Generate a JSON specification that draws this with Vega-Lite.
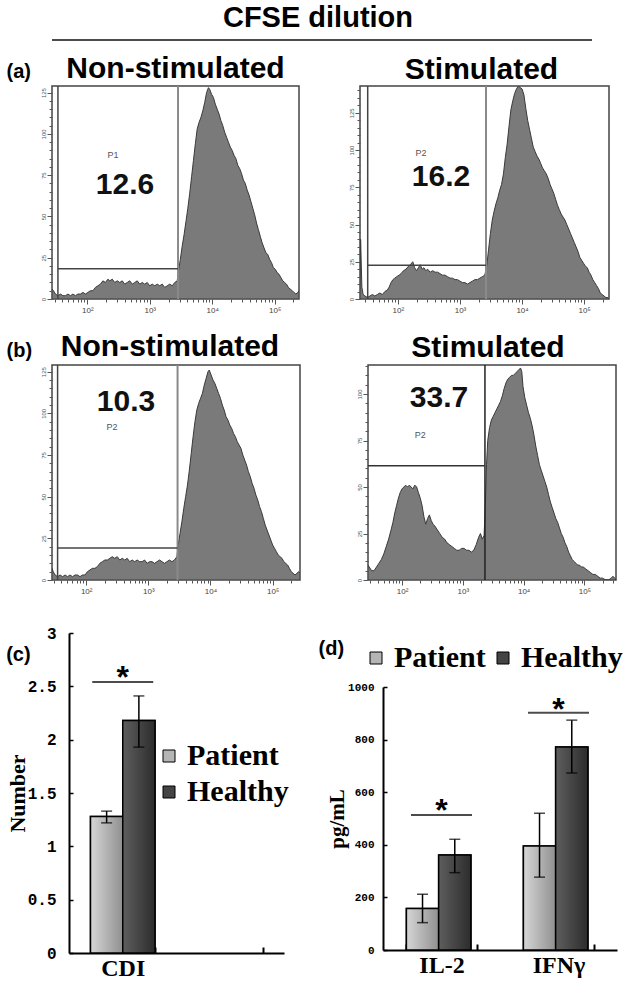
{
  "$schema": "https://vega.github.io/schema/vega-lite/v6.json",
  "background": "white",
  "padding": {"left": 5, "top": 4, "right": 0, "bottom": 0},
  "config": {
    "font": "Liberation Sans",
    "view": {"stroke": "#444", "strokeWidth": 1.5},
    "title": {"font": "Liberation Sans", "fontSize": 30, "fontWeight": "bold", "color": "#000", "frame": "group", "offset": 0},
    "axis": {"grid": false},
    "legend": {"labelFont": "Liberation Serif", "labelFontWeight": "bold", "labelFontSize": 30, "labelColor": "#000", "symbolType": "square", "symbolSize": 144, "symbolStrokeColor": "#000", "symbolStrokeWidth": 1, "labelOffset": 3, "rowPadding": 6, "columnPadding": 2, "labelLimit": 300}
  },
  "datasets": {
    "a1": [{"l":1.435,"c":6},{"l":1.46,"c":5},{"l":1.49,"c":3},{"l":1.53,"c":2},{"l":1.57,"c":3},{"l":1.61,"c":2},{"l":1.65,"c":2},{"l":1.69,"c":3},{"l":1.73,"c":2},{"l":1.77,"c":3},{"l":1.81,"c":2},{"l":1.85,"c":3},{"l":1.89,"c":3},{"l":1.93,"c":4},{"l":1.97,"c":3},{"l":2.01,"c":4},{"l":2.05,"c":5},{"l":2.09,"c":5},{"l":2.13,"c":7},{"l":2.17,"c":8},{"l":2.21,"c":9},{"l":2.25,"c":11},{"l":2.29,"c":10},{"l":2.33,"c":12},{"l":2.36,"c":11},{"l":2.4,"c":12},{"l":2.44,"c":10},{"l":2.48,"c":11},{"l":2.52,"c":10},{"l":2.56,"c":11},{"l":2.6,"c":9},{"l":2.64,"c":10},{"l":2.68,"c":11},{"l":2.72,"c":9},{"l":2.76,"c":10},{"l":2.8,"c":11},{"l":2.84,"c":9},{"l":2.88,"c":10},{"l":2.92,"c":9},{"l":2.96,"c":10},{"l":3.0,"c":8},{"l":3.04,"c":9},{"l":3.08,"c":8},{"l":3.12,"c":9},{"l":3.16,"c":8},{"l":3.2,"c":9},{"l":3.24,"c":7},{"l":3.28,"c":8},{"l":3.32,"c":9},{"l":3.36,"c":8},{"l":3.4,"c":10},{"l":3.44,"c":11},{"l":3.46,"c":17},{"l":3.49,"c":24},{"l":3.52,"c":32},{"l":3.55,"c":39},{"l":3.58,"c":47},{"l":3.61,"c":55},{"l":3.64,"c":64},{"l":3.67,"c":74},{"l":3.7,"c":84},{"l":3.73,"c":94},{"l":3.76,"c":103},{"l":3.79,"c":107},{"l":3.82,"c":110},{"l":3.85,"c":114},{"l":3.88,"c":119},{"l":3.91,"c":125},{"l":3.94,"c":128},{"l":3.96,"c":127},{"l":3.99,"c":124},{"l":4.02,"c":122},{"l":4.05,"c":118},{"l":4.08,"c":115},{"l":4.11,"c":112},{"l":4.14,"c":108},{"l":4.17,"c":105},{"l":4.2,"c":101},{"l":4.23,"c":98},{"l":4.26,"c":95},{"l":4.29,"c":92},{"l":4.32,"c":90},{"l":4.35,"c":87},{"l":4.38,"c":85},{"l":4.41,"c":81},{"l":4.44,"c":79},{"l":4.47,"c":76},{"l":4.5,"c":72},{"l":4.53,"c":70},{"l":4.56,"c":66},{"l":4.59,"c":63},{"l":4.62,"c":59},{"l":4.65,"c":55},{"l":4.68,"c":51},{"l":4.71,"c":46},{"l":4.74,"c":42},{"l":4.77,"c":38},{"l":4.8,"c":34},{"l":4.83,"c":31},{"l":4.86,"c":28},{"l":4.89,"c":27},{"l":4.92,"c":24},{"l":4.95,"c":22},{"l":4.98,"c":19},{"l":5.01,"c":18},{"l":5.04,"c":16},{"l":5.07,"c":15},{"l":5.1,"c":13},{"l":5.13,"c":11},{"l":5.16,"c":10},{"l":5.19,"c":9},{"l":5.22,"c":7},{"l":5.25,"c":6},{"l":5.28,"c":5},{"l":5.31,"c":4},{"l":5.34,"c":3},{"l":5.37,"c":4},{"l":5.39,"c":5}],
    "a2": [{"l":1.39,"c":2},{"l":1.4,"c":40},{"l":1.42,"c":8},{"l":1.44,"c":3},{"l":1.47,"c":2},{"l":1.51,"c":1},{"l":1.55,"c":2},{"l":1.59,"c":3},{"l":1.63,"c":2},{"l":1.67,"c":3},{"l":1.71,"c":4},{"l":1.75,"c":3},{"l":1.79,"c":5},{"l":1.83,"c":6},{"l":1.86,"c":8},{"l":1.89,"c":11},{"l":1.92,"c":13},{"l":1.95,"c":14},{"l":1.98,"c":15},{"l":2.02,"c":16},{"l":2.05,"c":17},{"l":2.09,"c":19},{"l":2.13,"c":20},{"l":2.17,"c":22},{"l":2.2,"c":23},{"l":2.24,"c":25},{"l":2.27,"c":21},{"l":2.3,"c":19},{"l":2.33,"c":21},{"l":2.36,"c":23},{"l":2.39,"c":20},{"l":2.42,"c":21},{"l":2.45,"c":19},{"l":2.48,"c":20},{"l":2.52,"c":18},{"l":2.56,"c":19},{"l":2.6,"c":18},{"l":2.64,"c":18},{"l":2.68,"c":17},{"l":2.72,"c":16},{"l":2.76,"c":16},{"l":2.8,"c":15},{"l":2.84,"c":14},{"l":2.88,"c":14},{"l":2.92,"c":13},{"l":2.96,"c":13},{"l":3.0,"c":12},{"l":3.04,"c":11},{"l":3.08,"c":11},{"l":3.12,"c":10},{"l":3.16,"c":11},{"l":3.2,"c":12},{"l":3.24,"c":13},{"l":3.28,"c":13},{"l":3.32,"c":14},{"l":3.36,"c":15},{"l":3.4,"c":16},{"l":3.43,"c":22},{"l":3.46,"c":33},{"l":3.49,"c":44},{"l":3.52,"c":53},{"l":3.55,"c":59},{"l":3.58,"c":64},{"l":3.61,"c":68},{"l":3.64,"c":73},{"l":3.67,"c":77},{"l":3.7,"c":84},{"l":3.73,"c":95},{"l":3.76,"c":104},{"l":3.79,"c":116},{"l":3.82,"c":127},{"l":3.85,"c":133},{"l":3.88,"c":138},{"l":3.91,"c":141},{"l":3.94,"c":143},{"l":3.97,"c":142},{"l":4.0,"c":141},{"l":4.03,"c":137},{"l":4.06,"c":128},{"l":4.09,"c":120},{"l":4.12,"c":114},{"l":4.15,"c":108},{"l":4.18,"c":102},{"l":4.21,"c":99},{"l":4.24,"c":96},{"l":4.27,"c":94},{"l":4.3,"c":91},{"l":4.33,"c":88},{"l":4.36,"c":86},{"l":4.39,"c":84},{"l":4.42,"c":81},{"l":4.45,"c":77},{"l":4.48,"c":74},{"l":4.51,"c":71},{"l":4.54,"c":67},{"l":4.57,"c":63},{"l":4.6,"c":60},{"l":4.63,"c":57},{"l":4.66,"c":55},{"l":4.69,"c":53},{"l":4.72,"c":50},{"l":4.75,"c":47},{"l":4.78,"c":44},{"l":4.81,"c":41},{"l":4.84,"c":38},{"l":4.87,"c":35},{"l":4.9,"c":32},{"l":4.93,"c":28},{"l":4.96,"c":26},{"l":4.99,"c":24},{"l":5.02,"c":22},{"l":5.05,"c":21},{"l":5.08,"c":18},{"l":5.11,"c":16},{"l":5.14,"c":13},{"l":5.17,"c":11},{"l":5.2,"c":9},{"l":5.23,"c":7},{"l":5.26,"c":4},{"l":5.29,"c":3},{"l":5.32,"c":2},{"l":5.35,"c":1},{"l":5.38,"c":1},{"l":5.4,"c":0}],
    "b1": [{"l":1.45,"c":7},{"l":1.47,"c":5},{"l":1.5,"c":3},{"l":1.54,"c":2},{"l":1.58,"c":3},{"l":1.62,"c":2},{"l":1.66,"c":3},{"l":1.7,"c":2},{"l":1.74,"c":3},{"l":1.78,"c":2},{"l":1.82,"c":3},{"l":1.86,"c":3},{"l":1.9,"c":2},{"l":1.94,"c":3},{"l":1.98,"c":3},{"l":2.02,"c":5},{"l":2.06,"c":6},{"l":2.1,"c":7},{"l":2.14,"c":7},{"l":2.18,"c":8},{"l":2.22,"c":10},{"l":2.26,"c":11},{"l":2.3,"c":12},{"l":2.34,"c":12},{"l":2.38,"c":13},{"l":2.42,"c":14},{"l":2.46,"c":13},{"l":2.5,"c":14},{"l":2.54,"c":12},{"l":2.58,"c":13},{"l":2.62,"c":12},{"l":2.66,"c":13},{"l":2.7,"c":11},{"l":2.74,"c":12},{"l":2.78,"c":11},{"l":2.82,"c":12},{"l":2.86,"c":11},{"l":2.9,"c":11},{"l":2.94,"c":12},{"l":2.98,"c":10},{"l":3.02,"c":11},{"l":3.06,"c":11},{"l":3.1,"c":10},{"l":3.14,"c":11},{"l":3.18,"c":12},{"l":3.22,"c":11},{"l":3.26,"c":10},{"l":3.3,"c":11},{"l":3.34,"c":12},{"l":3.38,"c":11},{"l":3.42,"c":12},{"l":3.46,"c":14},{"l":3.48,"c":21},{"l":3.51,"c":28},{"l":3.54,"c":35},{"l":3.57,"c":43},{"l":3.6,"c":50},{"l":3.63,"c":57},{"l":3.66,"c":66},{"l":3.69,"c":76},{"l":3.72,"c":86},{"l":3.75,"c":95},{"l":3.78,"c":102},{"l":3.81,"c":106},{"l":3.84,"c":109},{"l":3.87,"c":112},{"l":3.9,"c":117},{"l":3.93,"c":121},{"l":3.96,"c":125},{"l":3.98,"c":126},{"l":4.01,"c":123},{"l":4.04,"c":120},{"l":4.07,"c":118},{"l":4.1,"c":115},{"l":4.13,"c":112},{"l":4.16,"c":109},{"l":4.19,"c":105},{"l":4.22,"c":102},{"l":4.25,"c":98},{"l":4.28,"c":96},{"l":4.31,"c":93},{"l":4.34,"c":91},{"l":4.37,"c":88},{"l":4.4,"c":86},{"l":4.43,"c":83},{"l":4.46,"c":81},{"l":4.49,"c":79},{"l":4.52,"c":75},{"l":4.55,"c":72},{"l":4.58,"c":69},{"l":4.61,"c":65},{"l":4.64,"c":62},{"l":4.67,"c":58},{"l":4.7,"c":55},{"l":4.73,"c":51},{"l":4.76,"c":48},{"l":4.79,"c":44},{"l":4.82,"c":41},{"l":4.85,"c":37},{"l":4.88,"c":33},{"l":4.91,"c":30},{"l":4.94,"c":27},{"l":4.97,"c":24},{"l":5.0,"c":21},{"l":5.03,"c":19},{"l":5.06,"c":17},{"l":5.09,"c":15},{"l":5.12,"c":14},{"l":5.15,"c":13},{"l":5.18,"c":11},{"l":5.21,"c":10},{"l":5.24,"c":9},{"l":5.27,"c":7},{"l":5.3,"c":5},{"l":5.33,"c":4},{"l":5.36,"c":3},{"l":5.39,"c":4},{"l":5.42,"c":5},{"l":5.44,"c":4}],
    "b2": [{"l":1.44,"c":8},{"l":1.46,"c":7},{"l":1.5,"c":5},{"l":1.54,"c":5},{"l":1.58,"c":7},{"l":1.62,"c":9},{"l":1.66,"c":11},{"l":1.7,"c":14},{"l":1.74,"c":18},{"l":1.78,"c":22},{"l":1.82,"c":27},{"l":1.85,"c":31},{"l":1.88,"c":36},{"l":1.91,"c":40},{"l":1.94,"c":44},{"l":1.97,"c":47},{"l":2.0,"c":49},{"l":2.03,"c":50},{"l":2.06,"c":51},{"l":2.09,"c":50},{"l":2.12,"c":51},{"l":2.15,"c":50},{"l":2.18,"c":49},{"l":2.21,"c":51},{"l":2.24,"c":50},{"l":2.27,"c":47},{"l":2.3,"c":44},{"l":2.33,"c":40},{"l":2.36,"c":34},{"l":2.39,"c":30},{"l":2.42,"c":33},{"l":2.45,"c":35},{"l":2.48,"c":32},{"l":2.51,"c":30},{"l":2.54,"c":29},{"l":2.58,"c":27},{"l":2.62,"c":25},{"l":2.66,"c":23},{"l":2.7,"c":22},{"l":2.74,"c":20},{"l":2.78,"c":19},{"l":2.82,"c":18},{"l":2.86,"c":17},{"l":2.9,"c":16},{"l":2.94,"c":16},{"l":2.98,"c":17},{"l":3.02,"c":17},{"l":3.06,"c":16},{"l":3.1,"c":16},{"l":3.14,"c":15},{"l":3.18,"c":16},{"l":3.22,"c":19},{"l":3.26,"c":23},{"l":3.29,"c":25},{"l":3.32,"c":22},{"l":3.35,"c":24},{"l":3.37,"c":40},{"l":3.39,"c":62},{"l":3.41,"c":75},{"l":3.44,"c":82},{"l":3.47,"c":86},{"l":3.5,"c":88},{"l":3.53,"c":90},{"l":3.56,"c":92},{"l":3.59,"c":94},{"l":3.62,"c":96},{"l":3.65,"c":99},{"l":3.68,"c":103},{"l":3.71,"c":106},{"l":3.74,"c":108},{"l":3.77,"c":109},{"l":3.8,"c":110},{"l":3.83,"c":110},{"l":3.86,"c":111},{"l":3.89,"c":112},{"l":3.92,"c":113},{"l":3.95,"c":114},{"l":3.97,"c":112},{"l":3.99,"c":104},{"l":4.02,"c":98},{"l":4.05,"c":94},{"l":4.08,"c":90},{"l":4.11,"c":87},{"l":4.14,"c":83},{"l":4.17,"c":78},{"l":4.2,"c":72},{"l":4.23,"c":67},{"l":4.26,"c":62},{"l":4.29,"c":59},{"l":4.32,"c":56},{"l":4.35,"c":53},{"l":4.38,"c":50},{"l":4.41,"c":46},{"l":4.44,"c":42},{"l":4.47,"c":39},{"l":4.5,"c":36},{"l":4.53,"c":33},{"l":4.56,"c":31},{"l":4.59,"c":28},{"l":4.62,"c":25},{"l":4.65,"c":23},{"l":4.68,"c":20},{"l":4.71,"c":18},{"l":4.74,"c":15},{"l":4.77,"c":13},{"l":4.8,"c":11},{"l":4.83,"c":10},{"l":4.86,"c":9},{"l":4.89,"c":8},{"l":4.92,"c":8},{"l":4.95,"c":7},{"l":4.98,"c":7},{"l":5.02,"c":6},{"l":5.06,"c":5},{"l":5.1,"c":4},{"l":5.14,"c":3},{"l":5.18,"c":3},{"l":5.22,"c":2},{"l":5.26,"c":1},{"l":5.3,"c":1},{"l":5.35,"c":0},{"l":5.4,"c":0},{"l":5.44,"c":1},{"l":5.47,"c":2},{"l":5.5,"c":1},{"l":5.52,"c":0}],
    "gates": [
      {"p":"a1","lo":1.53,"hi":3.453,"lvl":18.3},
      {"p":"a2","lo":1.514,"hi":3.419,"lvl":22.6},
      {"p":"b1","lo":1.54,"hi":3.47,"lvl":19.2},
      {"p":"b2","lo":1.44,"hi":3.364,"lvl":61.4}
    ],
    "marks": [
      {"p":"a1","k":"big","l":2.604,"c":69,"t":"12.6"},
      {"p":"a1","k":"small","l":2.41,"c":87,"t":"P1"},
      {"p":"a2","k":"big","l":2.694,"c":82,"t":"16.2"},
      {"p":"a2","k":"small","l":2.372,"c":98,"t":"P2"},
      {"p":"b1","k":"big","l":2.64,"c":107,"t":"10.3"},
      {"p":"b1","k":"small","l":2.415,"c":92,"t":"P2"},
      {"p":"b2","k":"big","l":2.608,"c":98,"t":"33.7"},
      {"p":"b2","k":"small","l":2.3,"c":78,"t":"P2"}
    ],
    "cdi": [
      {"cat":"CDI","grp":"Patient","v":1.28,"lo":1.22,"hi":1.33},
      {"cat":"CDI","grp":"Healthy","v":2.18,"lo":1.93,"hi":2.41}
    ],
    "sigc": [{"cat":"CDI","line":2.54,"star":2.65}],
    "cyto": [
      {"cat":"IL-2","grp":"Patient","v":158,"lo":104,"hi":212},
      {"cat":"IL-2","grp":"Healthy","v":361,"lo":294,"hi":421},
      {"cat":"IFNγ","grp":"Patient","v":395,"lo":277,"hi":520},
      {"cat":"IFNγ","grp":"Healthy","v":772,"lo":673,"hi":874}
    ],
    "sigd": [{"cat":"IL-2","line":513,"star":559},{"cat":"IFNγ","line":902,"star":944}]
  },
  "vconcat": [
    {
      "width": 540, "height": 1,
      "view": {"stroke": null},
      "title": {"text": "CFSE dilution", "fontSize": 29, "offset": 6, "dx": -4},
      "data": {"values": [{}]},
      "mark": {"type": "rule", "color": "#111", "strokeWidth": 1.5},
      "encoding": {"y": {"datum": 0, "type": "quantitative", "scale": {"domain": [0, 1]}, "axis": null}}
    },
    {
      "hconcat": [
        {
          "width": 247, "height": 213,
          "title": {"text": "Non-stimulated", "offset": -23},
          "resolve": {"axis": {"x": "independent", "y": "independent"}},
          "layer": [
            {"data": {"name": "a1"}, "mark": {"type": "area", "fill": "#7a7a7a", "stroke": "#3a3a3a", "strokeWidth": 1, "clip": true},
             "encoding": {
               "x": {"field": "l", "type": "quantitative", "scale": {"domain": [1.435, 5.39], "nice": false, "zero": false},
                     "axis": {"orient": "bottom", "values": [2, 3, 4, 5], "labelExpr": "datum.value == 2 ? '10²' : datum.value == 3 ? '10³' : datum.value == 4 ? '10⁴' : '10⁵'",
                              "labelFontSize": 8, "labelColor": "#444", "labelPadding": 2, "tickColor": "#555", "tickSize": 5, "domain": false, "title": null, "minExtent": 19}},
               "y": {"field": "c", "type": "quantitative", "scale": {"domain": [0, 129], "nice": false},
                     "axis": {"orient": "left", "values": [0, 25, 50, 75, 100, 125], "labelAngle": -90, "labelFontSize": 6, "labelColor": "#555", "labelPadding": 1,
                              "tickColor": "#555", "tickSize": 5, "domain": false,
                              "title": "(a)", "titleAngle": 0, "titleX": -46, "titleY": -9, "titleAlign": "left", "titleBaseline": "alphabetic", "titleFontSize": 20, "titleFontWeight": "bold", "titleColor": "#000"}}
             }},
            {"data": {"name": "gates"}, "transform": [{"filter": "datum.p == 'a1'"}], "mark": {"type": "rule", "color": "#444", "strokeWidth": 1.5},
             "encoding": {"x": {"field": "lo", "type": "quantitative",
                                "axis": {"orient": "bottom", "values": [1.477,1.602,1.699,1.778,1.845,1.903,1.954,2.301,2.477,2.602,2.699,2.778,2.845,2.903,2.954,3.301,3.477,3.602,3.699,3.778,3.845,3.903,3.954,4.301,4.477,4.602,4.699,4.778,4.845,4.903,4.954,5.301],
                                         "labels": false, "tickColor": "#555", "tickSize": 3, "domain": false, "title": null}}}},
            {"data": {"name": "gates"}, "transform": [{"filter": "datum.p == 'a1'"}], "mark": {"type": "rule", "color": "#8a8a8a", "strokeWidth": 2},
             "encoding": {"x": {"field": "hi", "type": "quantitative", "axis": null}}},
            {"data": {"name": "gates"}, "transform": [{"filter": "datum.p == 'a1'"}], "mark": {"type": "rule", "color": "#444", "strokeWidth": 1.5},
             "encoding": {"x": {"field": "lo", "type": "quantitative", "axis": null}, "x2": {"field": "hi"},
                          "y": {"field": "lvl", "type": "quantitative",
                                "axis": {"orient": "left", "values": [5,10,15,20,30,35,40,45,55,60,65,70,80,85,90,95,105,110,115,120], "labels": false, "tickColor": "#555", "tickSize": 3, "domain": false, "title": null}}}},
            {"data": {"name": "marks"}, "transform": [{"filter": "datum.p == 'a1' && datum.k == 'big'"}], "mark": {"type": "text", "fontSize": 30, "fontWeight": "bold", "color": "#111"},
             "encoding": {"x": {"field": "l", "type": "quantitative", "axis": null}, "y": {"field": "c", "type": "quantitative", "axis": null}, "text": {"field": "t"}}},
            {"data": {"name": "marks"}, "transform": [{"filter": "datum.p == 'a1' && datum.k == 'small'"}], "mark": {"type": "text", "fontSize": 9, "color": "#555"},
             "encoding": {"x": {"field": "l", "type": "quantitative", "axis": null}, "y": {"field": "c", "type": "quantitative", "axis": null}, "text": {"field": "t"}}}
          ]
        },
        {
          "width": 249, "height": 213,
          "title": {"text": "Stimulated", "dx": -3, "offset": 0},
          "resolve": {"axis": {"x": "independent", "y": "independent"}},
          "layer": [
            {"data": {"name": "a2"}, "mark": {"type": "area", "fill": "#7a7a7a", "stroke": "#3a3a3a", "strokeWidth": 1, "clip": true},
             "encoding": {
               "x": {"field": "l", "type": "quantitative", "scale": {"domain": [1.39, 5.4], "nice": false, "zero": false},
                     "axis": {"orient": "bottom", "values": [2, 3, 4, 5], "labelExpr": "datum.value == 2 ? '10²' : datum.value == 3 ? '10³' : datum.value == 4 ? '10⁴' : '10⁵'",
                              "labelFontSize": 8, "labelColor": "#444", "labelPadding": 2, "tickColor": "#555", "tickSize": 5, "domain": false, "title": null, "minExtent": 19}},
               "y": {"field": "c", "type": "quantitative", "scale": {"domain": [0, 143], "nice": false},
                     "axis": {"orient": "left", "values": [0, 25, 50, 75, 100, 125], "labelAngle": -90, "labelFontSize": 6, "labelColor": "#555", "labelPadding": 1,
                              "tickColor": "#555", "tickSize": 5, "domain": false, "title": null}}
             }},
            {"data": {"name": "gates"}, "transform": [{"filter": "datum.p == 'a2'"}], "mark": {"type": "rule", "color": "#444", "strokeWidth": 1.5},
             "encoding": {"x": {"field": "lo", "type": "quantitative",
                                "axis": {"orient": "bottom", "values": [1.477,1.602,1.699,1.778,1.845,1.903,1.954,2.301,2.477,2.602,2.699,2.778,2.845,2.903,2.954,3.301,3.477,3.602,3.699,3.778,3.845,3.903,3.954,4.301,4.477,4.602,4.699,4.778,4.845,4.903,4.954,5.301],
                                         "labels": false, "tickColor": "#555", "tickSize": 3, "domain": false, "title": null}}}},
            {"data": {"name": "gates"}, "transform": [{"filter": "datum.p == 'a2'"}], "mark": {"type": "rule", "color": "#8a8a8a", "strokeWidth": 2},
             "encoding": {"x": {"field": "hi", "type": "quantitative", "axis": null}}},
            {"data": {"name": "gates"}, "transform": [{"filter": "datum.p == 'a2'"}], "mark": {"type": "rule", "color": "#444", "strokeWidth": 1.5},
             "encoding": {"x": {"field": "lo", "type": "quantitative", "axis": null}, "x2": {"field": "hi"},
                          "y": {"field": "lvl", "type": "quantitative",
                                "axis": {"orient": "left", "values": [5,10,15,20,30,35,40,45,55,60,65,70,80,85,90,95,105,110,115,120,130,135,140], "labels": false, "tickColor": "#555", "tickSize": 3, "domain": false, "title": null}}}},
            {"data": {"name": "marks"}, "transform": [{"filter": "datum.p == 'a2' && datum.k == 'big'"}], "mark": {"type": "text", "fontSize": 30, "fontWeight": "bold", "color": "#111"},
             "encoding": {"x": {"field": "l", "type": "quantitative", "axis": null}, "y": {"field": "c", "type": "quantitative", "axis": null}, "text": {"field": "t"}}},
            {"data": {"name": "marks"}, "transform": [{"filter": "datum.p == 'a2' && datum.k == 'small'"}], "mark": {"type": "text", "fontSize": 9, "color": "#555"},
             "encoding": {"x": {"field": "l", "type": "quantitative", "axis": null}, "y": {"field": "c", "type": "quantitative", "axis": null}, "text": {"field": "t"}}}
          ]
        }
      ],
      "spacing": 61,
      "bounds": "flush"
    },
    {
      "hconcat": [
        {
          "width": 248, "height": 215,
          "title": {"text": "Non-stimulated", "dx": -6, "offset": -22},
          "resolve": {"axis": {"x": "independent", "y": "independent"}},
          "layer": [
            {"data": {"name": "b1"}, "mark": {"type": "area", "fill": "#7a7a7a", "stroke": "#3a3a3a", "strokeWidth": 1, "clip": true},
             "encoding": {
               "x": {"field": "l", "type": "quantitative", "scale": {"domain": [1.45, 5.44], "nice": false, "zero": false},
                     "axis": {"orient": "bottom", "values": [2, 3, 4, 5], "labelExpr": "datum.value == 2 ? '10²' : datum.value == 3 ? '10³' : datum.value == 4 ? '10⁴' : '10⁵'",
                              "labelFontSize": 8, "labelColor": "#444", "labelPadding": 2, "tickColor": "#555", "tickSize": 5, "domain": false, "title": null, "minExtent": 32}},
               "y": {"field": "c", "type": "quantitative", "scale": {"domain": [0, 129], "nice": false},
                     "axis": {"orient": "left", "values": [0, 25, 50, 75, 100, 125], "labelAngle": -90, "labelFontSize": 6, "labelColor": "#555", "labelPadding": 1,
                              "tickColor": "#555", "tickSize": 5, "domain": false,
                              "title": "(b)", "titleAngle": 0, "titleX": -46, "titleY": -9, "titleAlign": "left", "titleBaseline": "alphabetic", "titleFontSize": 20, "titleFontWeight": "bold", "titleColor": "#000"}}
             }},
            {"data": {"name": "gates"}, "transform": [{"filter": "datum.p == 'b1'"}], "mark": {"type": "rule", "color": "#444", "strokeWidth": 1.5},
             "encoding": {"x": {"field": "lo", "type": "quantitative",
                                "axis": {"orient": "bottom", "values": [1.477,1.602,1.699,1.778,1.845,1.903,1.954,2.301,2.477,2.602,2.699,2.778,2.845,2.903,2.954,3.301,3.477,3.602,3.699,3.778,3.845,3.903,3.954,4.301,4.477,4.602,4.699,4.778,4.845,4.903,4.954,5.301],
                                         "labels": false, "tickColor": "#555", "tickSize": 3, "domain": false, "title": null}}}},
            {"data": {"name": "gates"}, "transform": [{"filter": "datum.p == 'b1'"}], "mark": {"type": "rule", "color": "#8a8a8a", "strokeWidth": 2},
             "encoding": {"x": {"field": "hi", "type": "quantitative", "axis": null}}},
            {"data": {"name": "gates"}, "transform": [{"filter": "datum.p == 'b1'"}], "mark": {"type": "rule", "color": "#444", "strokeWidth": 1.5},
             "encoding": {"x": {"field": "lo", "type": "quantitative", "axis": null}, "x2": {"field": "hi"},
                          "y": {"field": "lvl", "type": "quantitative",
                                "axis": {"orient": "left", "values": [5,10,15,20,30,35,40,45,55,60,65,70,80,85,90,95,105,110,115,120], "labels": false, "tickColor": "#555", "tickSize": 3, "domain": false, "title": null}}}},
            {"data": {"name": "marks"}, "transform": [{"filter": "datum.p == 'b1' && datum.k == 'big'"}], "mark": {"type": "text", "fontSize": 30, "fontWeight": "bold", "color": "#111"},
             "encoding": {"x": {"field": "l", "type": "quantitative", "axis": null}, "y": {"field": "c", "type": "quantitative", "axis": null}, "text": {"field": "t"}}},
            {"data": {"name": "marks"}, "transform": [{"filter": "datum.p == 'b1' && datum.k == 'small'"}], "mark": {"type": "text", "fontSize": 9, "color": "#555"},
             "encoding": {"x": {"field": "l", "type": "quantitative", "axis": null}, "y": {"field": "c", "type": "quantitative", "axis": null}, "text": {"field": "t"}}}
          ]
        },
        {
          "width": 248, "height": 215,
          "title": {"text": "Stimulated", "dx": -4, "offset": 1},
          "resolve": {"axis": {"x": "independent", "y": "independent"}},
          "layer": [
            {"data": {"name": "b2"}, "mark": {"type": "area", "fill": "#7a7a7a", "stroke": "#3a3a3a", "strokeWidth": 1, "clip": true},
             "encoding": {
               "x": {"field": "l", "type": "quantitative", "scale": {"domain": [1.44, 5.52], "nice": false, "zero": false},
                     "axis": {"orient": "bottom", "values": [2, 3, 4, 5], "labelExpr": "datum.value == 2 ? '10²' : datum.value == 3 ? '10³' : datum.value == 4 ? '10⁴' : '10⁵'",
                              "labelFontSize": 8, "labelColor": "#444", "labelPadding": 2, "tickColor": "#555", "tickSize": 5, "domain": false, "title": null, "minExtent": 32}},
               "y": {"field": "c", "type": "quantitative", "scale": {"domain": [0, 115.6], "nice": false},
                     "axis": {"orient": "left", "values": [0, 25, 50, 75, 100], "labelAngle": -90, "labelFontSize": 6, "labelColor": "#555", "labelPadding": 1,
                              "tickColor": "#555", "tickSize": 5, "domain": false, "title": null}}
             }},
            {"data": {"name": "gates"}, "transform": [{"filter": "datum.p == 'b2'"}], "mark": {"type": "rule", "color": "#222", "strokeWidth": 1.5},
             "encoding": {"x": {"field": "hi", "type": "quantitative", "axis": null}}},
            {"data": {"name": "gates"}, "transform": [{"filter": "datum.p == 'b2'"}], "mark": {"type": "rule", "color": "#333", "strokeWidth": 1.5},
             "encoding": {"x": {"field": "lo", "type": "quantitative",
                                "axis": {"orient": "bottom", "values": [1.477,1.602,1.699,1.778,1.845,1.903,1.954,2.301,2.477,2.602,2.699,2.778,2.845,2.903,2.954,3.301,3.477,3.602,3.699,3.778,3.845,3.903,3.954,4.301,4.477,4.602,4.699,4.778,4.845,4.903,4.954,5.301,5.477],
                                         "labels": false, "tickColor": "#555", "tickSize": 3, "domain": false, "title": null}},
                          "x2": {"field": "hi"},
                          "y": {"field": "lvl", "type": "quantitative",
                                "axis": {"orient": "left", "values": [5,10,15,20,30,35,40,45,55,60,65,70,80,85,90,95,105,110,115], "labels": false, "tickColor": "#555", "tickSize": 3, "domain": false, "title": null}}}},
            {"data": {"name": "marks"}, "transform": [{"filter": "datum.p == 'b2' && datum.k == 'big'"}], "mark": {"type": "text", "fontSize": 30, "fontWeight": "bold", "color": "#111"},
             "encoding": {"x": {"field": "l", "type": "quantitative", "axis": null}, "y": {"field": "c", "type": "quantitative", "axis": null}, "text": {"field": "t"}}},
            {"data": {"name": "marks"}, "transform": [{"filter": "datum.p == 'b2' && datum.k == 'small'"}], "mark": {"type": "text", "fontSize": 9, "color": "#555"},
             "encoding": {"x": {"field": "l", "type": "quantitative", "axis": null}, "y": {"field": "c", "type": "quantitative", "axis": null}, "text": {"field": "t"}}}
          ]
        }
      ],
      "spacing": 68,
      "bounds": "flush"
    },
    {
      "hconcat": [
        {
          "width": 232, "height": 320,
          "view": {"stroke": null},
          "title": {"text": "(c)", "anchor": "start", "frame": "bounds", "offset": 0, "dy": 40, "dx": 0, "fontSize": 20},
          "data": {"name": "cdi"},
          "encoding": {
            "x": {"field": "cat", "type": "nominal", "title": null,
                  "scale": {"domain": ["CDI", "_"], "paddingInner": 0.4, "paddingOuter": 0.2, "range": [17, 232]},
                  "axis": {"labelExpr": "datum.value == '_' ? '' : datum.value", "labelFont": "Liberation Serif", "labelFontWeight": "bold", "labelFontSize": 24, "labelColor": "#000", "labelAngle": 0, "labelPadding": 9,
                           "tickBand": "extent", "tickSize": -6, "tickColor": "#000", "tickWidth": 2, "domainColor": "#000", "domainWidth": 2, "title": null}}
          },
          "layer": [
            {"mark": {"type": "bar", "stroke": "#000", "strokeWidth": 1.5},
             "encoding": {
               "xOffset": {"field": "grp", "type": "nominal", "scale": {"domain": ["Patient", "Healthy"]}},
               "y": {"field": "v", "type": "quantitative", "scale": {"domain": [0, 3], "nice": false},
                     "axis": {"offset": -17, "title": "Number", "titleFont": "Liberation Serif", "titleFontSize": 22, "titleFontWeight": "bold", "titleColor": "#000", "titlePadding": -2,
                              "values": [0, 0.5, 1, 1.5, 2, 2.5, 3], "format": "~g", "labelFont": "Liberation Mono", "labelFontSize": 16, "labelFontWeight": "bold", "labelColor": "#000",
                              "tickSize": -4, "tickColor": "#000", "tickWidth": 1.5, "labelPadding": 17, "domainColor": "#000", "domainWidth": 2}},
               "color": {"field": "grp", "type": "nominal",
                         "scale": {"domain": ["Patient", "Healthy"], "range": ["#b5b5b5", "#444444"]},
                         "legend": {"orient": "none", "legendX": 102, "legendY": 108, "direction": "vertical", "title": null, "symbolStrokeColor": "#000", "symbolStrokeWidth": 1}}
             }},
            {"transform": [{"filter": "datum.grp == 'Patient'"}],
             "mark": {"type": "bar", "stroke": "#000", "strokeWidth": 1.5, "fill": {"gradient": "linear", "x1": 0, "y1": 0, "x2": 1, "y2": 0, "stops": [{"offset": 0, "color": "#d6d6d6"}, {"offset": 1, "color": "#909090"}]}},
             "encoding": {"xOffset": {"field": "grp", "type": "nominal"}, "y": {"field": "v", "type": "quantitative"}}},
            {"transform": [{"filter": "datum.grp == 'Healthy'"}],
             "mark": {"type": "bar", "stroke": "#000", "strokeWidth": 1.5, "fill": {"gradient": "linear", "x1": 0, "y1": 0, "x2": 1, "y2": 0, "stops": [{"offset": 0, "color": "#5e5e5e"}, {"offset": 1, "color": "#2c2c2c"}]}},
             "encoding": {"xOffset": {"field": "grp", "type": "nominal"}, "y": {"field": "v", "type": "quantitative"}}},
            {"mark": {"type": "rule", "color": "#000", "strokeWidth": 1.5},
             "encoding": {"xOffset": {"field": "grp", "type": "nominal"}, "y": {"field": "lo", "type": "quantitative"}, "y2": {"field": "hi"}}},
            {"mark": {"type": "tick", "orient": "horizontal", "size": 11, "thickness": 1.5, "color": "#000"},
             "encoding": {"xOffset": {"field": "grp", "type": "nominal"}, "y": {"field": "hi", "type": "quantitative"}}},
            {"mark": {"type": "tick", "orient": "horizontal", "size": 11, "thickness": 1.5, "color": "#000"},
             "encoding": {"xOffset": {"field": "grp", "type": "nominal"}, "y": {"field": "lo", "type": "quantitative"}}},
            {"data": {"name": "sigc"}, "mark": {"type": "tick", "orient": "horizontal", "size": 61, "thickness": 2, "color": "#000"},
             "encoding": {"y": {"field": "line", "type": "quantitative"}}},
            {"data": {"name": "sigc"}, "mark": {"type": "text", "text": "*", "font": "Liberation Sans", "fontWeight": "bold", "fontSize": 32, "baseline": "alphabetic", "dy": 18, "color": "#000"},
             "encoding": {"y": {"field": "star", "type": "quantitative"}}}
          ]
        },
        {
          "width": 234, "height": 317,
          "view": {"stroke": null},
          "title": {"text": "(d)", "anchor": "start", "frame": "bounds", "offset": 0, "dy": 26, "dx": -8, "fontSize": 20},
          "data": {"name": "cyto"},
          "encoding": {
            "x": {"field": "cat", "type": "nominal", "title": null,
                  "scale": {"domain": ["IL-2", "IFNγ"], "paddingInner": 0.4, "paddingOuter": 0.2},
                  "axis": {"labelFont": "Liberation Serif", "labelFontWeight": "bold", "labelFontSize": 24, "labelColor": "#000", "labelAngle": 0, "labelPadding": 9,
                           "tickBand": "extent", "tickSize": -6, "tickColor": "#000", "tickWidth": 2, "domainColor": "#000", "domainWidth": 2, "title": null}}
          },
          "layer": [
            {"mark": {"type": "bar", "stroke": "#000", "strokeWidth": 1.5},
             "encoding": {
               "xOffset": {"field": "grp", "type": "nominal", "scale": {"domain": ["Patient", "Healthy"]}},
               "y": {"field": "v", "type": "quantitative", "scale": {"domain": [0, 1000], "nice": false, "range": [317, 54]},
                     "axis": {"title": "pg/mL", "titleFont": "Liberation Serif", "titleFontSize": 21, "titleFontWeight": "bold", "titleColor": "#000", "titlePadding": 0,
                              "values": [0, 100, 200, 300, 400, 500, 600, 700, 800, 900, 1000], "format": "d", "labelFont": "Liberation Mono", "labelFontSize": 11, "labelFontWeight": "bold", "labelColor": "#000",
                              "tickSize": -4, "tickColor": "#000", "tickWidth": 1.5, "labelPadding": 13, "domainColor": "#000", "domainWidth": 2}},
               "color": {"field": "grp", "type": "nominal",
                         "scale": {"domain": ["Patient", "Healthy"], "range": ["#b5b5b5", "#444444"]},
                         "legend": {"orient": "none", "legendX": -22, "legendY": 10, "direction": "horizontal", "title": null, "symbolStrokeColor": "#000", "symbolStrokeWidth": 1}}
             }},
            {"transform": [{"filter": "datum.grp == 'Patient'"}],
             "mark": {"type": "bar", "stroke": "#000", "strokeWidth": 1.5, "fill": {"gradient": "linear", "x1": 0, "y1": 0, "x2": 1, "y2": 0, "stops": [{"offset": 0, "color": "#d6d6d6"}, {"offset": 1, "color": "#909090"}]}},
             "encoding": {"xOffset": {"field": "grp", "type": "nominal"}, "y": {"field": "v", "type": "quantitative"}}},
            {"transform": [{"filter": "datum.grp == 'Healthy'"}],
             "mark": {"type": "bar", "stroke": "#000", "strokeWidth": 1.5, "fill": {"gradient": "linear", "x1": 0, "y1": 0, "x2": 1, "y2": 0, "stops": [{"offset": 0, "color": "#5e5e5e"}, {"offset": 1, "color": "#2c2c2c"}]}},
             "encoding": {"xOffset": {"field": "grp", "type": "nominal"}, "y": {"field": "v", "type": "quantitative"}}},
            {"mark": {"type": "rule", "color": "#000", "strokeWidth": 1.5},
             "encoding": {"xOffset": {"field": "grp", "type": "nominal"}, "y": {"field": "lo", "type": "quantitative"}, "y2": {"field": "hi"}}},
            {"mark": {"type": "tick", "orient": "horizontal", "size": 11, "thickness": 1.5, "color": "#000"},
             "encoding": {"xOffset": {"field": "grp", "type": "nominal"}, "y": {"field": "hi", "type": "quantitative"}}},
            {"mark": {"type": "tick", "orient": "horizontal", "size": 11, "thickness": 1.5, "color": "#000"},
             "encoding": {"xOffset": {"field": "grp", "type": "nominal"}, "y": {"field": "lo", "type": "quantitative"}}},
            {"data": {"name": "sigd"}, "mark": {"type": "tick", "orient": "horizontal", "size": 61, "thickness": 2, "color": "#000"},
             "encoding": {"y": {"field": "line", "type": "quantitative"}}},
            {"data": {"name": "sigd"}, "mark": {"type": "text", "text": "*", "font": "Liberation Sans", "fontWeight": "bold", "fontSize": 32, "baseline": "alphabetic", "dy": 18, "color": "#000"},
             "encoding": {"y": {"field": "star", "type": "quantitative"}}}
          ]
        }
      ],
      "spacing": 99,
      "bounds": "flush",
      "resolve": {"scale": {"color": "independent"}, "legend": {"color": "independent"}}
    }
  ],
  "spacing": 12
}
